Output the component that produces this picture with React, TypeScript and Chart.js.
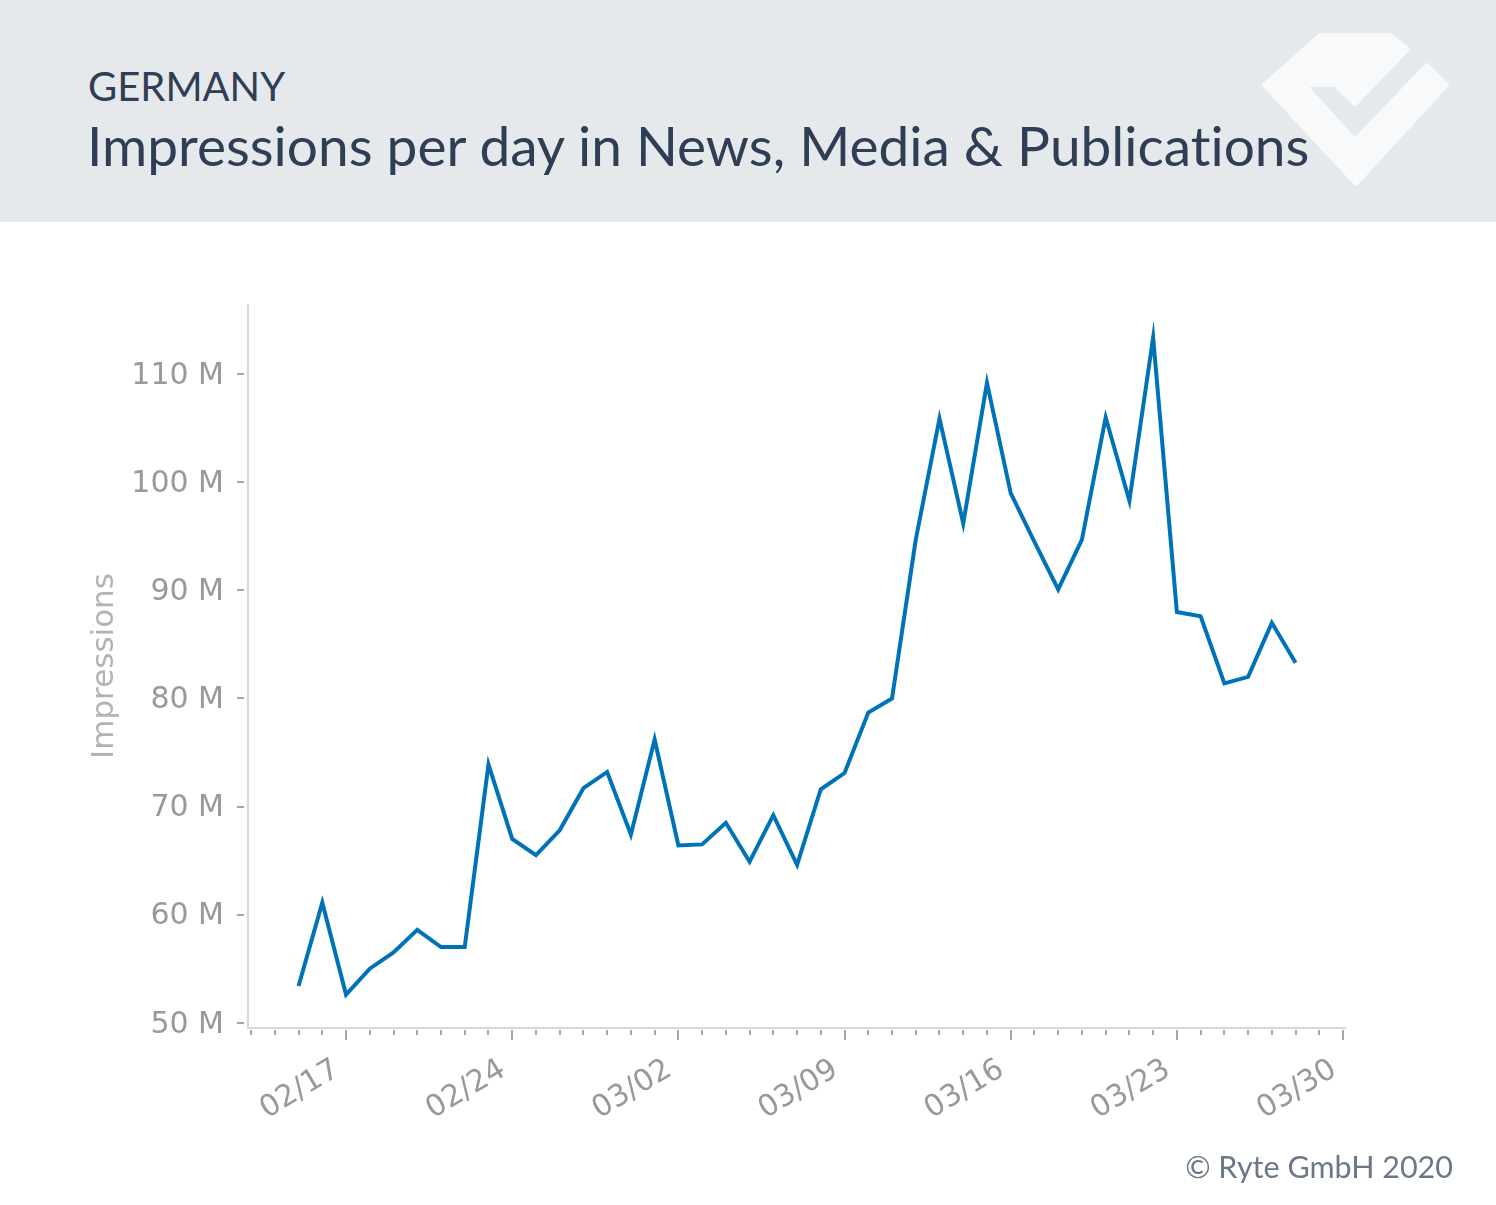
import React, { useEffect, useRef } from "react";
import { Chart, registerables } from "chart.js";

Chart.register(...registerables);

// Data: daily impressions (millions), Germany, News, Media & Publications
const startYear = 2020;
const startMonth = 1; // February (0-based)
const startDay = 15; // first data point: 02/15
const impressions: number[] = [
  53.4, 61.1, 52.6, 55.0, 56.5, 58.6, 57.0, 57.0, 73.9, 67.0,
  65.5, 67.8, 71.7, 73.2, 67.4, 76.2, 66.4, 66.5, 68.5, 64.9,
  69.2, 64.6, 71.6, 73.1, 78.7, 80.0, 94.7, 105.9, 96.2, 109.2,
  99.0, 94.5, 90.1, 94.7, 106.0, 98.3, 113.4, 88.0, 87.6, 81.4,
  82.0, 87.0, 83.3,
];
const yTicks: number[] = [50, 60, 70, 80, 90, 100, 110];
const majorTickDays: number[] = [2, 9, 16, 23, 30, 37, 44]; // 02/17 ... 03/30
const xMin = -2.13;
const xMax = 44.04;
const yMin = 49.51;
const yMax = 116.5;

const headerLabel = "GERMANY";
const titleText = "Impressions per day in News, Media & Publications";
const yAxisTitle = "Impressions";
const copyright = "© Ryte GmbH 2020";

function fmtDay(v: number): string {
  const d = new Date(startYear, startMonth, startDay + v);
  const mm = String(d.getMonth() + 1).padStart(2, "0");
  const dd = String(d.getDate()).padStart(2, "0");
  return `${mm}/${dd}`;
}

const tickMarksPlugin = {
  id: "tickMarks",
  afterDraw(chart: any) {
    const ctx = chart.ctx;
    const xs = chart.scales.x;
    const ys = chart.scales.y;
    const area = chart.chartArea;
    ctx.save();
    ctx.strokeStyle = "#d9d9d9";
    ctx.lineWidth = 2;
    ctx.beginPath();
    ctx.moveTo(area.left, area.top);
    ctx.lineTo(area.left, area.bottom);
    ctx.lineTo(area.right + 2, area.bottom);
    ctx.stroke();
    ctx.strokeStyle = "#a6a6a6";
    ctx.lineWidth = 2;
    ctx.beginPath();
    for (const t of yTicks) {
      const y = Math.round(ys.getPixelForValue(t));
      ctx.moveTo(area.left - 11, y);
      ctx.lineTo(area.left - 4, y);
    }
    for (let d = Math.ceil(xMin); d <= Math.floor(xMax); d++) {
      const x = Math.round(xs.getPixelForValue(d));
      const major = majorTickDays.includes(d);
      ctx.moveTo(x, area.bottom + 2);
      ctx.lineTo(x, area.bottom + (major ? 12 : 7));
    }
    ctx.stroke();
    ctx.restore();
  },
};

function ChartCanvas() {
  const ref = useRef<HTMLCanvasElement | null>(null);
  useEffect(() => {
    if (!ref.current) return;
    const points = impressions.map((v, i) => ({ x: i, y: v }));
    const chart = new Chart(ref.current, {
      type: "line",
      data: {
        datasets: [
          {
            data: points,
            borderColor: "#0073b8",
            borderWidth: 4,
            pointRadius: 0,
            tension: 0,
            fill: false,
          },
        ],
      },
      options: {
        animation: false,
        responsive: false,
        maintainAspectRatio: false,
        layout: { padding: { top: 82, right: 152, left: 0, bottom: 0 } },
        plugins: {
          legend: { display: false },
          tooltip: { enabled: false },
        },
        scales: {
          x: {
            type: "linear",
            min: xMin,
            max: xMax,
            afterBuildTicks: (scale: any) => {
              scale.ticks = majorTickDays.map((v) => ({ value: v }));
            },
            afterFit: (scale: any) => {
              scale.height = 177;
            },
            grid: { display: false, drawTicks: false },
            border: { display: false },
            ticks: {
              autoSkip: false,
              maxRotation: 31,
              minRotation: 31,
              padding: 24,
              labelOffset: -9,
              color: "#999999",
              font: { family: "DejaVu Sans", size: 30 },
              callback: (v: any) => fmtDay(Number(v)),
            },
          },
          y: {
            type: "linear",
            min: yMin,
            max: yMax,
            afterBuildTicks: (scale: any) => {
              scale.ticks = yTicks.map((v) => ({ value: v }));
            },
            afterFit: (scale: any) => {
              scale.width = 248;
            },
            grid: { display: false, drawTicks: false },
            border: { display: false },
            title: {
              display: true,
              text: yAxisTitle,
              color: "#b3b3b3",
              font: { family: "DejaVu Sans", size: 31, lineHeight: 1.2 },
              padding: { top: 86, bottom: 0 },
            },
            ticks: {
              padding: 24,
              labelOffset: 2,
              color: "#999999",
              font: { family: "DejaVu Sans", size: 30 },
              callback: (v: any) => `${v} M`,
            },
          },
        },
      },
      plugins: [tickMarksPlugin],
    });
    return () => chart.destroy();
  }, []);
  return (
    <canvas
      ref={ref}
      width={1496}
      height={983}
      style={{ position: "absolute", left: 0, top: 222, width: 1496, height: 983 }}
    />
  );
}

export default function App() {
  return (
    <div
      style={{
        position: "absolute",
        left: 0,
        top: 0,
        width: 1496,
        height: 1205,
        background: "#ffffff",
        overflow: "hidden",
      }}
    >
      <div
        style={{
          position: "absolute",
          left: 0,
          top: 0,
          width: 1496,
          height: 222,
          background: "#e6e9ec",
        }}
      >
        <svg
          width={1496}
          height={222}
          style={{ position: "absolute", left: 0, top: 0 }}
        >
          <polygon
            points="1320,35 1390,35 1408,49 1355,104 1335,85 1305,85 1355,140 1427,65 1447,85 1356,184 1264,85"
            fill="#f8f9fa"
            stroke="#f8f9fa"
            strokeWidth={4}
            strokeLinejoin="round"
          />
        </svg>
        <div
          style={{
            position: "absolute",
            left: 88,
            top: 62,
            fontFamily: "Lato",
            fontSize: 40,
            color: "#2f3e55",
            whiteSpace: "nowrap",
            lineHeight: "48px",
          }}
        >
          {headerLabel}
        </div>
        <div
          style={{
            position: "absolute",
            left: 87,
            top: 113,
            fontFamily: "Lato",
            fontSize: 55,
            fontVariantLigatures: "none",
            color: "#2f3e55",
            whiteSpace: "nowrap",
            lineHeight: "64px",
          }}
        >
          {titleText}
        </div>
      </div>
      <ChartCanvas />
      <div
        style={{
          position: "absolute",
          right: 43,
          top: 1146,
          fontFamily: "Lato",
          fontSize: 30.5,
          color: "#6c788a",
          whiteSpace: "nowrap",
          lineHeight: "40px",
          zIndex: 2,
        }}
      >
        {copyright}
      </div>
    </div>
  );
}
